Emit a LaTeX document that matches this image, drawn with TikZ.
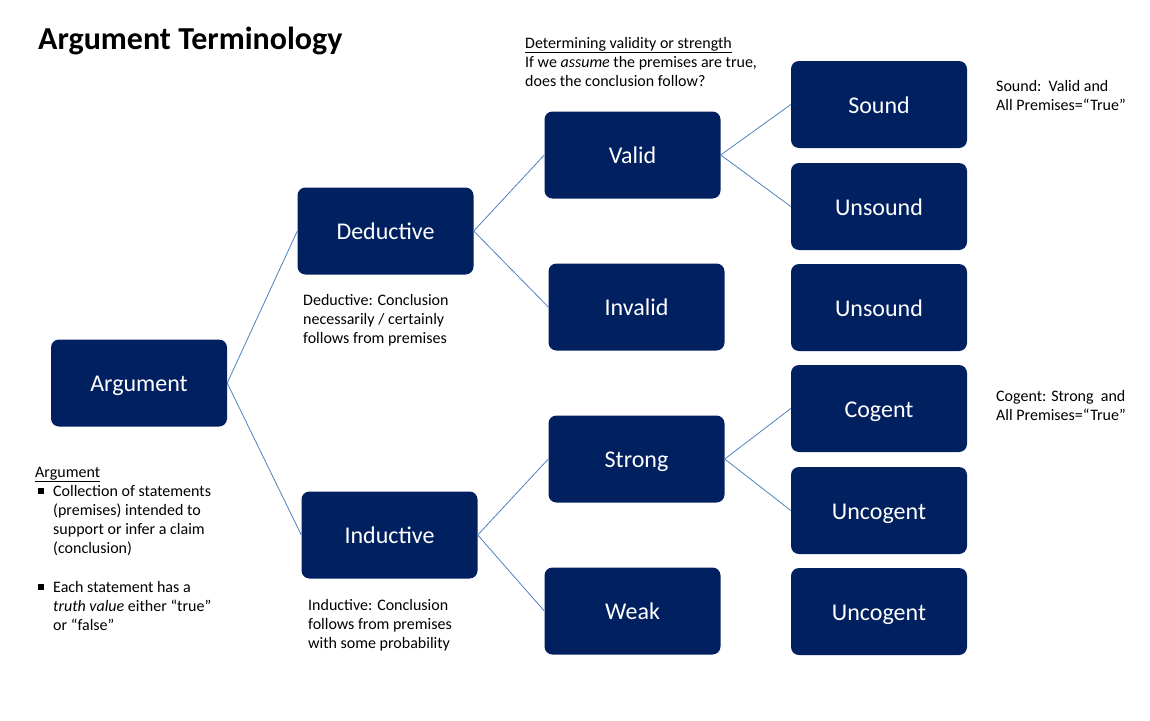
\documentclass[tikz,border=0pt]{standalone}
\usepackage{fontspec}
\setmainfont{Carlito}
\definecolor{navy}{RGB}{0,32,96}
\definecolor{linkblue}{RGB}{79,129,189}
\begin{document}
\begin{tikzpicture}[x=1pt,y=-1pt,
  box/.style={fill=navy, rounded corners=8pt, minimum width=176pt, minimum height=87pt,
    inner sep=0pt, text height=17pt, text depth=0pt, text=white,
    font=\fontsize{24}{29}\selectfont},
  link/.style={draw=linkblue, line width=0.8pt},
  % multi-line notes are placed by the baseline of their last line
  note/.style={anchor=base west, inner sep=0pt, align=left, font=\fontsize{16}{19}\selectfont}]
\useasboundingbox (0,0) rectangle (1150,720);

% title
\node[anchor=base west, inner sep=0pt, font=\fontsize{32}{38}\selectfont\bfseries] (title) at (38,49) {Argument Terminology};

% tree boxes
\node[box] (arg)   at (139,383)   {Argument};
\node[box] (ded)   at (385.5,231) {Deductive};
\node[box] (ind)   at (389.5,535) {Inductive};
\node[box] (valid) at (632.5,155) {Valid};
\node[box] (inval) at (636.5,307) {Invalid};
\node[box] (strong) at (636.5,459) {Strong};
\node[box] (weak)  at (632.5,611) {Weak};
\node[box] (sound) at (879,104.5) {Sound};
\node[box] (unsA)  at (879,206.5) {Unsound};
\node[box] (unsB)  at (879,307.5) {Unsound};
\node[box] (cog)   at (879,408.5) {Cogent};
\node[box] (uncA)  at (879,510.5) {Uncogent};
\node[box] (uncB)  at (879,611.5) {Uncogent};

% connectors
\draw[link] (arg.east) -- (ded.west);
\draw[link] (arg.east) -- (ind.west);
\draw[link] (ded.east) -- (valid.west);
\draw[link] (ded.east) -- (inval.west);
\draw[link] (valid.east) -- (sound.west);
\draw[link] (valid.east) -- (unsA.west);
\draw[link] (ind.east) -- (strong.west);
\draw[link] (ind.east) -- (weak.west);
\draw[link] (strong.east) -- (cog.west);
\draw[link] (strong.east) -- (uncA.west);

% notes
\node[note] (detnote) at (525,86) {\underline{Determining validity or strength}\\If we \textit{assume} the premises are true,\\does the conclusion follow?};
\node[note] (sndnote) at (996,110) {Sound:\ \ Valid and\\All Premises=“True”};
\node[note] (cognote) at (996,420) {Cogent: Strong\ \ and\\All Premises=“True”};
\node[note] (dednote) at (303,343) {Deductive: Conclusion\\necessarily / certainly\\follows from premises};
\node[note] (indnote) at (308,648) {Inductive: Conclusion\\follows from premises\\with some probability};

% argument definition
\node[note] (arghead) at (35,477) {\underline{Argument}};
\node[note] (bulA) at (38,496) {\raisebox{2pt}{\rule{6pt}{6pt}}};
\node[note] (itemA) at (53,553) {Collection of statements\\(premises) intended to\\support or infer a claim\\(conclusion)};
\node[note] (bulB) at (38,592) {\raisebox{2pt}{\rule{6pt}{6pt}}};
\node[note] (itemB) at (53,630) {Each statement has a\\\textit{truth value} either “true”\\or “false”};
\end{tikzpicture}
\end{document}
